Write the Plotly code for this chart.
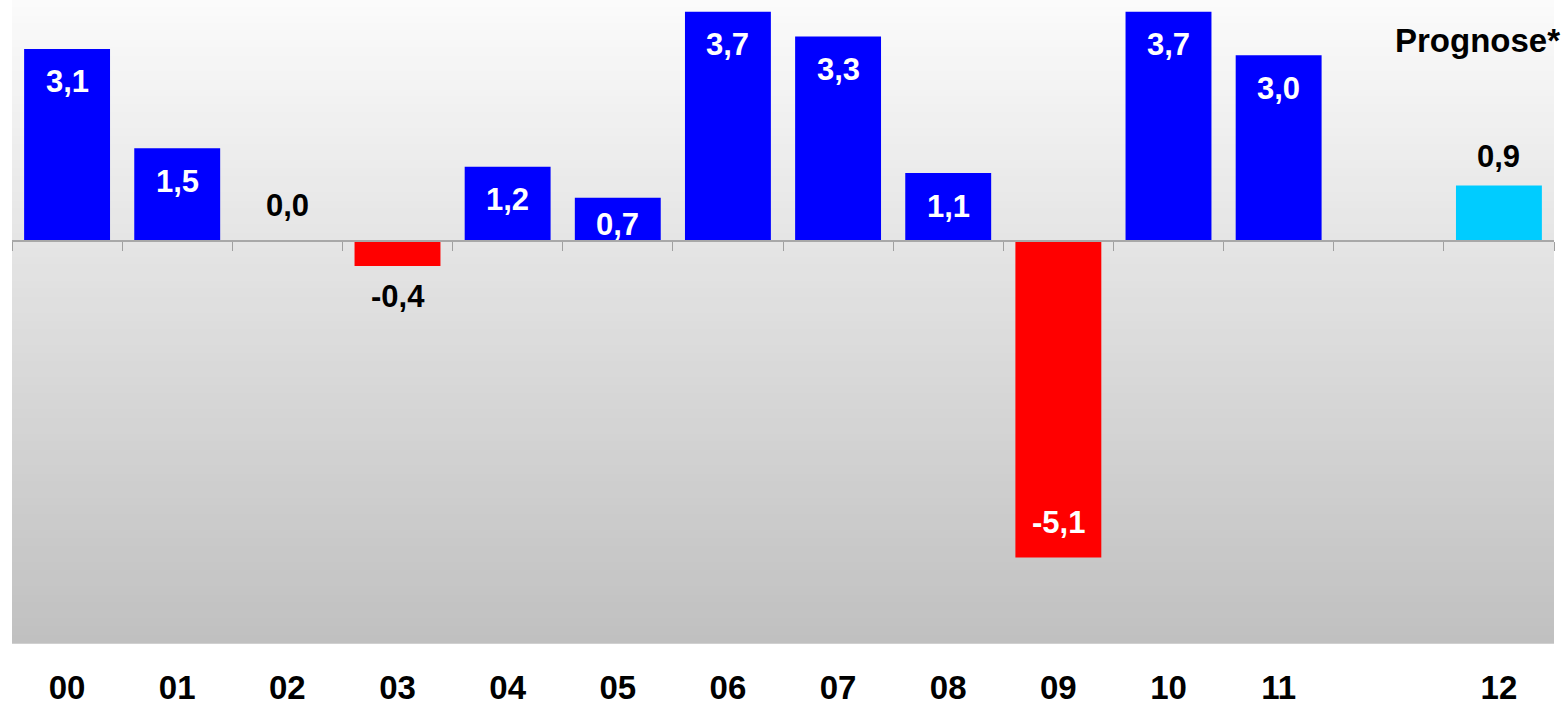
import plotly.graph_objects as go

# ---- data ----
categories = ["00", "01", "02", "03", "04", "05", "06", "07", "08", "09", "10", "11", " ", "12"]
values = [3.1, 1.5, 0.0, -0.4, 1.2, 0.7, 3.7, 3.3, 1.1, -5.1, 3.7, 3.0, None, 0.9]
is_forecast = [False] * 13 + [True]
forecast_note = "Prognose*"

# ---- style ----
FONT = "Liberation Sans"
FS = 31
FS_AXIS = 33
BLUE, RED, CYAN = "#0000ff", "#ff0000", "#00ccff"
Y_MIN, Y_MAX = -6.48, 3.89
W, H = 1567, 706
M_L, M_R, M_T, M_B = 12, 13, 0, 63
px_per_unit = (H - M_T - M_B) / (Y_MAX - Y_MIN)

colors = []
for v, f in zip(values, is_forecast):
    if f:
        colors.append(CYAN)
    elif v is not None and v < 0:
        colors.append(RED)
    else:
        colors.append(BLUE)

fig = go.Figure()
fig.add_trace(go.Bar(x=categories, y=values, marker=dict(color=colors, line=dict(width=0)),
                     hoverinfo="skip", showlegend=False))
# helper trace for the zero-line axis (boundary ticks)
fig.add_trace(go.Scatter(x=categories, y=[0] * len(categories), xaxis="x2", mode="lines",
                         line=dict(width=0), hoverinfo="skip", showlegend=False))

# value labels
for i, (v, f) in enumerate(zip(values, is_forecast)):
    if v is None:
        continue
    txt = f"{v:.1f}".replace(".", ",")
    inside = (not f) and abs(v) >= 0.5
    bar_px = abs(v) * px_per_unit
    if inside:
        off = min(33, bar_px - 17)
        shift = -off if v > 0 else off + 2
        col = "white"
    else:
        if v > 0:
            shift = 29
        elif v == 0:
            shift = 36
        else:
            shift = -30
        col = "black"
    fig.add_annotation(x=i, y=v, xref="x", yref="y", text=txt, showarrow=False,
                       yanchor="middle", yshift=shift,
                       font=dict(family=FONT, size=FS, color=col, weight="bold"))

fig.add_annotation(x=1, y=1, xref="paper", yref="paper", text=forecast_note, showarrow=False,
                   xanchor="right", yanchor="middle", xshift=8, yshift=-40,
                   font=dict(family=FONT, size=33, color="black", weight="bold"))

# gradient background
N = 80
top, bot = 251, 192
for k in range(N):
    t = (k + 0.5) / N
    g = round(top + (bot - top) * t)
    fig.add_shape(type="rect", xref="paper", yref="paper", x0=0, x1=1,
                  y0=1 - (k + 1) / N - 0.001, y1=1 - k / N + 0.001,
                  fillcolor=f"rgb({g},{g},{g})", line=dict(width=0), layer="below")

zero_pos = (0 - Y_MIN) / (Y_MAX - Y_MIN)

fig.update_layout(
    width=W, height=H,
    margin=dict(l=M_L, r=M_R, t=M_T, b=M_B, autoexpand=False),
    paper_bgcolor="white", plot_bgcolor="rgba(0,0,0,0)",
    bargap=0.22,
    xaxis=dict(type="category", categoryorder="array", categoryarray=categories,
               range=[-0.5, len(categories) - 0.5], showgrid=False, zeroline=False,
               showline=False, ticks="outside", ticklen=15, tickcolor="rgba(0,0,0,0)",
               tickfont=dict(family=FONT, size=FS_AXIS, color="black", weight="bold")),
    xaxis2=dict(type="category", categoryorder="array", categoryarray=categories,
                overlaying="x", anchor="free", position=zero_pos, side="bottom",
                range=[-0.5, len(categories) - 0.5], showgrid=False, zeroline=False,
                showline=True, linecolor="#a8a8a8", linewidth=2,
                ticks="outside", tickson="boundaries", ticklen=9, tickcolor="#a0a0a0",
                tickwidth=1, showticklabels=False),
    yaxis=dict(range=[Y_MIN, Y_MAX], visible=False, showgrid=False, zeroline=False),
)

fig.write_html("out.html", config={"displayModeBar": False},
               post_script="document.body.style.margin='0';document.body.style.overflow='hidden';")
